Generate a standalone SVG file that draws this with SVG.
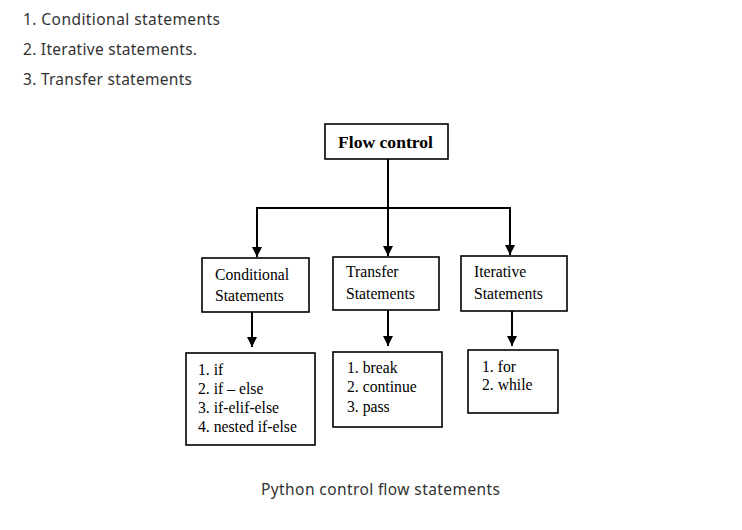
<svg xmlns="http://www.w3.org/2000/svg" width="742" height="530" viewBox="0 0 742 530">
<style>
.ui{font-family:"Noto Sans","Open Sans","DejaVu Sans",sans-serif;font-size:15.5px;fill:#333}
.tm{font-family:"Liberation Serif","Times New Roman",serif;font-size:15.7px;fill:#000}
.box{fill:#fff;stroke:#000;stroke-width:1.6}
.ln{fill:none;stroke:#000;stroke-width:2}
</style>
<defs>
<marker id="ah" viewBox="0 0 10 10" refX="10" refY="5" markerWidth="10" markerHeight="10" markerUnits="userSpaceOnUse" orient="auto">
<path d="M0,0 L10,5 L0,10 Z" fill="#000"/>
</marker>
</defs>
<rect width="742" height="530" fill="#fff"/>
<g id="intro">
<text class="ui" x="23" y="25" textLength="197">1. Conditional statements</text>
<text class="ui" x="23" y="55" textLength="174">2. Iterative statements.</text>
<text class="ui" x="23" y="85" textLength="169">3. Transfer statements</text>
</g>
<g id="connectors">
<path class="ln" d="M388,159 V208"/>
<path class="ln" d="M257,208 H510"/>
<path class="ln" d="M257,207 V257" marker-end="url(#ah)"/>
<path class="ln" d="M388,208 V256" marker-end="url(#ah)"/>
<path class="ln" d="M510,207 V255" marker-end="url(#ah)"/>
<path class="ln" d="M252,312 V347" marker-end="url(#ah)"/>
<path class="ln" d="M388,310 V346" marker-end="url(#ah)"/>
<path class="ln" d="M512,311 V346" marker-end="url(#ah)"/>
</g>
<g id="flow-control">
<rect class="box" x="325" y="124" width="123" height="35"/>
<text class="tm" x="338" y="147.5" font-weight="bold" font-size="18" textLength="95" lengthAdjust="spacingAndGlyphs">Flow control</text>
</g>
<g id="conditional">
<rect class="box" x="202" y="258" width="107" height="54"/>
<text class="tm" x="215" y="280">Conditional</text>
<text class="tm" x="215" y="301">Statements</text>
</g>
<g id="transfer">
<rect class="box" x="333" y="257" width="106" height="53"/>
<text class="tm" x="346" y="277">Transfer</text>
<text class="tm" x="346" y="299">Statements</text>
</g>
<g id="iterative">
<rect class="box" x="461" y="256" width="106" height="55"/>
<text class="tm" x="474" y="277">Iterative</text>
<text class="tm" x="474" y="299">Statements</text>
</g>
<g id="conditional-list">
<rect class="box" x="186" y="353" width="129" height="92"/>
<text class="tm" x="198" y="375">1. if</text>
<text class="tm" x="198" y="394">2. if – else</text>
<text class="tm" x="198" y="413">3. if-elif-else</text>
<text class="tm" x="198" y="432">4. nested if-else</text>
</g>
<g id="transfer-list">
<rect class="box" x="333" y="352" width="109" height="75"/>
<text class="tm" x="347" y="373">1. break</text>
<text class="tm" x="347" y="392">2. continue</text>
<text class="tm" x="347" y="412">3. pass</text>
</g>
<g id="iterative-list">
<rect class="box" x="468" y="350" width="90" height="63"/>
<text class="tm" x="482" y="372">1. for</text>
<text class="tm" x="482" y="390">2. while</text>
</g>
<g id="caption">
<text class="ui" x="261" y="495" textLength="239">Python control flow statements</text>
</g>
</svg>
